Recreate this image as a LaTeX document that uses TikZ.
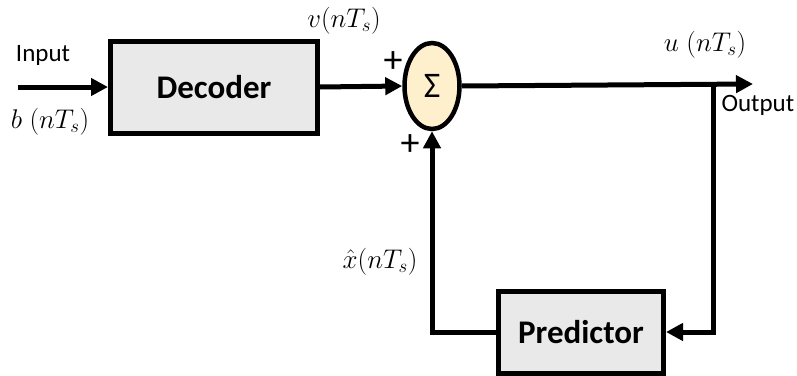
\RequirePackage{fix-cm}
\documentclass[tikz,border=0pt]{standalone}
\usepackage{amsmath}
\usepackage{fontspec}
\setsansfont{Carlito}
\usetikzlibrary{positioning, arrows.meta, shapes.geometric}
\definecolor{boxgray}{RGB}{233,233,233}
\definecolor{sumpeach}{RGB}{254,239,205}

\begin{document}
\begin{tikzpicture}[
      x=1pt, y=-1pt,
      block/.style={draw, line width=5pt, fill=boxgray, align=center, font=\sffamily\bfseries\fontsize{33}{38}\selectfont},
      sumnode/.style={draw, ellipse, line width=4.5pt, fill=sumpeach, inner sep=0pt, font=\sffamily\fontsize{36}{38}\selectfont},
      arrow/.style={-{Triangle[length=17pt, width=17pt]}, line width=5pt},
      lbl/.style={font=\sffamily\fontsize{25}{30}\selectfont},
      sig/.style={font=\fontsize{27}{32}\selectfont},
      sgn/.style={font=\sffamily\fontsize{38}{40}\selectfont, inner sep=0pt},
    ]
    \useasboundingbox (0,0) rectangle (797,375);
    \node[block, minimum width=207pt, minimum height=92pt] (dec) at (214,87) {Decoder};
    \node[sumnode, minimum width=55pt, minimum height=86pt] (sum) at (432,86) {Σ};
    \node[block, minimum width=165pt, minimum height=82pt] (pred) at (581,332) {Predictor};
    \coordinate (in) at (18,87);
    \coordinate (out) at (753,84);
    \coordinate (tap) at (713,84);
    % Labels
    \node[lbl] (inlbl) at (43,55) {Input};
    \node[sig] (blbl) at (50,122) {$b\;(nT_s)$};
    \node[sig] (vlbl) at (344,21) {$v(nT_s)$};
    \node[sig] (ulbl) at (705,45) {$u\;(nT_s)$};
    \node[lbl, anchor=west] (outlbl) at (718,105) {Output};
    \node[sig] (xlbl) at (380,262) {$\hat{x}(nT_s)$};
    \node[sgn] (plusa) at (393,62) {+};
    \node[sgn] (plusb) at (410,145) {+};
    % Arrows
    \draw[arrow] (in) -- (dec.west);
    \draw[arrow] (dec.east) -- (sum.west);
    \draw[arrow] (sum.east) -- (out);
    \draw[arrow] (tap) |- (pred.east);
    \draw[arrow] (pred.west) -| (sum.south);
  \end{tikzpicture}
\end{document}
